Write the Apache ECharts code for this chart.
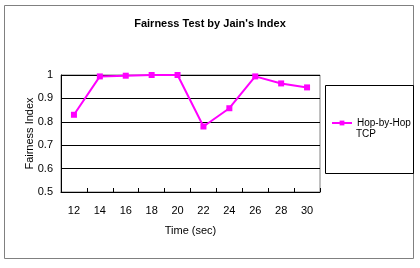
<!DOCTYPE html>
<html>
<head>
<meta charset="utf-8">
<script src="https://cdn.jsdelivr.net/npm/echarts@6/dist/echarts.min.js"></script>
<style>
html,body{margin:0;padding:0;background:#fff;}
#chart{width:420px;height:268px;}
</style>
</head>
<body>
<div id="chart"></div>
<script>
var categories = ['12','14','16','18','20','22','24','26','28','30'];
var hopByHop = [0.83, 0.994, 0.997, 1.0, 1.0, 0.78, 0.858, 0.994, 0.964, 0.947];
var seriesName = 'Hop-by-Hop TCP';
var legendLine1 = 'Hop-by-Hop';
var legendLine2 = 'TCP';
var titleText = "Fairness Test by Jain's Index";
var xName = 'Time (sec)';
var yName = 'Fairness Index';

var chart = echarts.init(document.getElementById('chart'), null, {renderer: 'canvas'});
var font = 'Liberation Sans, Arial, sans-serif';
chart.setOption({
  animation: false,
  backgroundColor: '#fff',
  textStyle: {fontFamily: font},
  title: {
    text: titleText,
    left: 'center',
    top: 13,
    textStyle: {fontFamily: font, fontSize: 11, fontWeight: 'bold', color: '#000'}
  },
  graphic: [
    {type: 'rect', shape: {x: 4.5, y: 5.5, width: 409, height: 253}, style: {fill: 'none', stroke: '#808080', lineWidth: 1}, silent: true},
    {type: 'rect', shape: {x: 325.5, y: 85.5, width: 88, height: 88}, style: {fill: 'none', stroke: '#000', lineWidth: 1}, silent: true},
    {type: 'text', left: 356, top: 129, style: {text: legendLine2, fill: '#000', font: '10px ' + font}, silent: true}
  ],
  legend: {
    orient: 'vertical',
    left: 331,
    top: 118,
    padding: 0,
    itemWidth: 20,
    itemHeight: 6,
    textStyle: {fontFamily: font, fontSize: 10, color: '#000'},
    formatter: function () { return legendLine1; },
    data: [seriesName]
  },
  grid: {
    left: 61, right: 100, top: 75, bottom: 76,
    show: true, borderColor: '#808080', borderWidth: 1,
    containLabel: false
  },
  xAxis: {
    type: 'category',
    data: categories,
    boundaryGap: true,
    name: xName,
    nameLocation: 'middle',
    nameGap: 33,
    nameMoveOverlap: false,
    nameTextStyle: {fontFamily: font, fontSize: 11, color: '#000'},
    axisLine: {show: true, lineStyle: {color: '#000', width: 1}},
    axisTick: {show: true, inside: true, length: 4, interval: 0, alignWithLabel: false, lineStyle: {color: '#000'}},
    axisLabel: {fontFamily: font, fontSize: 11, color: '#000', margin: 13, interval: 0},
    splitLine: {show: false}
  },
  yAxis: {
    type: 'value',
    min: 0.5,
    max: 1,
    interval: 0.1,
    name: yName,
    nameLocation: 'middle',
    nameGap: 26,
    nameMoveOverlap: false,
    nameRotate: 90,
    nameTextStyle: {fontFamily: font, fontSize: 11, color: '#000'},
    axisLine: {show: true, lineStyle: {color: '#000', width: 1}},
    axisTick: {show: false},
    axisLabel: {fontFamily: font, fontSize: 11, color: '#000', margin: 8},
    splitLine: {show: true, lineStyle: {color: '#000', width: 1}}
  },
  series: [{
    name: seriesName,
    type: 'line',
    data: hopByHop,
    symbol: 'rect',
    symbolSize: 6,
    lineStyle: {color: '#ff00ff', width: 2},
    itemStyle: {color: '#ff00ff'},
    z: 5
  }]
});
</script>
</body>
</html>
